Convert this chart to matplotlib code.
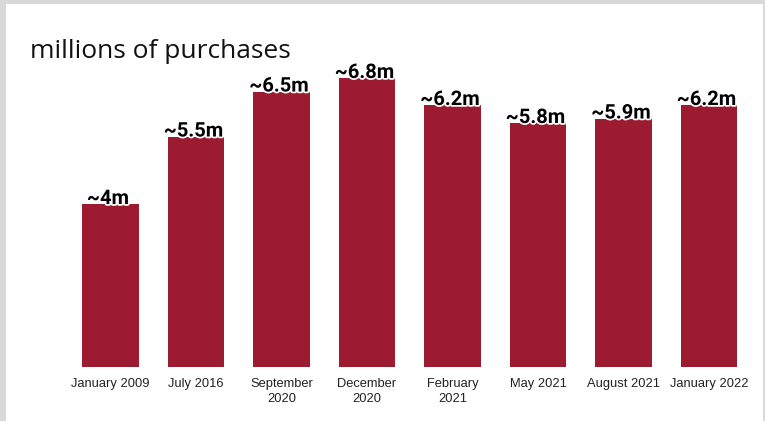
#!/usr/bin/env python3
import matplotlib as mpl
import matplotlib.pyplot as plt
import matplotlib.patheffects as pe
from matplotlib.patches import Rectangle

W, H, DPI = 765, 421, 100

COLORS = {
    "bar": "#9C1B31",
    "frame": "#D9D9D9",
    "text": "#111111",
}

periods = ["January 2009", "July 2016", "September\n2020", "December\n2020",
           "February\n2021", "May 2021", "August 2021", "January 2022"]
purchases_m = [4.0, 5.5, 6.5, 6.8, 6.2, 5.8, 5.9, 6.2]
value_labels = ["~4m", "~5.5m", "~6.5m", "~6.8m", "~6.2m", "~5.8m", "~5.9m", "~6.2m"]


def px(x, y, w, h):
    # pixel box (top-left origin) -> figure fraction rect
    return [x / W, 1 - (y + h) / H, w / W, h / H]


mpl.rcParams.update({"font.family": ["Liberation Sans", "DejaVu Sans"]})

fig = plt.figure(figsize=(W / DPI, H / DPI), dpi=DPI, facecolor=COLORS["frame"])

# white card on the grey frame
bg = fig.add_axes([0, 0, 1, 1], zorder=0)
bg.add_patch(Rectangle((6 / W, 0), (763 - 6) / W, 1 - 4 / H, facecolor="white",
                       edgecolor="none", transform=bg.transAxes))
bg.set_axis_off()

ax = fig.add_axes(px(67.75, 24, 684, 343), zorder=1)
ax.set_facecolor("none")
x = range(len(periods))
ax.bar(x, purchases_m, width=0.655, color=COLORS["bar"], zorder=2)
ax.set_xlim(-0.5, len(periods) - 0.5)
ax.set_ylim(0.38, 8.0)

for i, (v, lab) in enumerate(zip(purchases_m, value_labels)):
    ax.text(i - 0.03, v, lab, ha="center", va="baseline", fontsize=14.5,
            fontweight="bold", family=["Roboto", "DejaVu Sans"], color="black",
            zorder=3, path_effects=[pe.withStroke(linewidth=2.5, foreground="white")])

ax.set_xticks(list(x))
ax.set_xticklabels(periods, fontsize=9.3, color="#222222", linespacing=1.3)
ax.tick_params(axis="x", length=0, pad=8)
ax.set_yticks([])
for s in ax.spines.values():
    s.set_visible(False)

fig.text(30 / W, 1 - 58 / H, "millions of purchases", fontsize=19,
         family=["Open Sans", "DejaVu Sans"], color=COLORS["text"], va="baseline",
         zorder=5)

fig.savefig("out.png", dpi=DPI, facecolor=COLORS["frame"])
